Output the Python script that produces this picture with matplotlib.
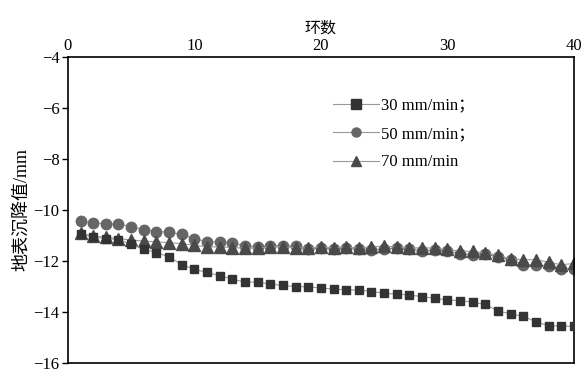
import numpy as np
import matplotlib
matplotlib.use("Agg")
import matplotlib.pyplot as plt
from matplotlib import ticker

plt.rcParams['font.family'] = ['Liberation Serif', 'Noto Sans CJK SC']
plt.rcParams['mathtext.fontset'] = 'stix'

# ring number
rings = list(range(1, 41))

# surface settlement (mm) at three advance speeds
s30 = [-10.93, -11.06, -11.12, -11.16, -11.34, -11.54, -11.67, -11.84, -12.14, -12.33,
       -12.45, -12.58, -12.71, -12.83, -12.83, -12.91, -12.96, -13.01, -13.01, -13.07,
       -13.10, -13.14, -13.14, -13.20, -13.27, -13.30, -13.34, -13.40, -13.47, -13.53,
       -13.56, -13.62, -13.71, -13.96, -14.08, -14.18, -14.38, -14.55, -14.55, -14.57]
s50 = [-10.45, -10.50, -10.55, -10.55, -10.65, -10.78, -10.85, -10.86, -10.96, -11.12,
       -11.25, -11.25, -11.30, -11.40, -11.45, -11.40, -11.40, -11.43, -11.55, -11.50,
       -11.55, -11.50, -11.55, -11.58, -11.52, -11.50, -11.55, -11.60, -11.58, -11.62,
       -11.72, -11.75, -11.72, -11.85, -11.95, -12.15, -12.15, -12.20, -12.30, -12.30]
s70 = [-10.92, -11.02, -11.08, -11.12, -11.18, -11.22, -11.25, -11.28, -11.32, -11.38,
       -11.45, -11.45, -11.48, -11.50, -11.50, -11.45, -11.45, -11.48, -11.50, -11.45,
       -11.48, -11.45, -11.50, -11.45, -11.42, -11.45, -11.50, -11.48, -11.50, -11.55,
       -11.62, -11.62, -11.70, -11.78, -11.92, -11.95, -11.95, -12.05, -12.15, -12.10]
labels = ['30 mm/min；', '50 mm/min；', '70 mm/min']

fig = plt.figure(figsize=(5.85, 3.71), dpi=100)
ax = fig.add_axes([0.116, 0.022, 0.865, 0.824])

ax.plot(rings, s30, color='#999999', lw=0.8, marker='s', ms=6,
        mfc='#333333', mec='#333333', label=labels[0], zorder=3)
ax.plot(rings, s50, color='#999999', lw=0.8, marker='o', ms=7.5,
        mfc='#666666', mec='#666666', label=labels[1], zorder=2)
ax.plot(rings, s70, color='#999999', lw=0.8, marker='^', ms=8,
        mfc='#4a4a4a', mec='#4a4a4a', label=labels[2], zorder=2.5)

ax.set_xlim(0, 40)
ax.set_ylim(-16, -4)
ax.xaxis.set_major_locator(ticker.MultipleLocator(10))
ax.yaxis.set_major_locator(ticker.MultipleLocator(2))
ax.xaxis.tick_top()
ax.xaxis.set_label_position('top')
ax.yaxis.set_major_formatter(ticker.FuncFormatter(lambda v, p: f"{v:.0f}".replace('-', '\u2212')))
ax.tick_params(axis='x', which='major', labelsize=12, direction='in', length=0, pad=2)
ax.tick_params(axis='y', which='major', labelsize=12, direction='out', length=4, width=1, pad=2)
for spine in ax.spines.values():
    spine.set_linewidth(1.2)

ax.set_xlabel('环数', fontsize=11.5, labelpad=4)
ax.set_ylabel('地表沉降值/mm', fontsize=13, labelpad=2)

leg = ax.legend(loc='upper left', bbox_to_anchor=(0.51, 0.89), frameon=False,
                fontsize=12, handlelength=2.8, handletextpad=0.1, labelspacing=0.75,
                borderaxespad=0)
for h in leg.legend_handles:
    h.set_markersize(6.5)

plt.savefig('out.png', dpi=100)
plt.close()
